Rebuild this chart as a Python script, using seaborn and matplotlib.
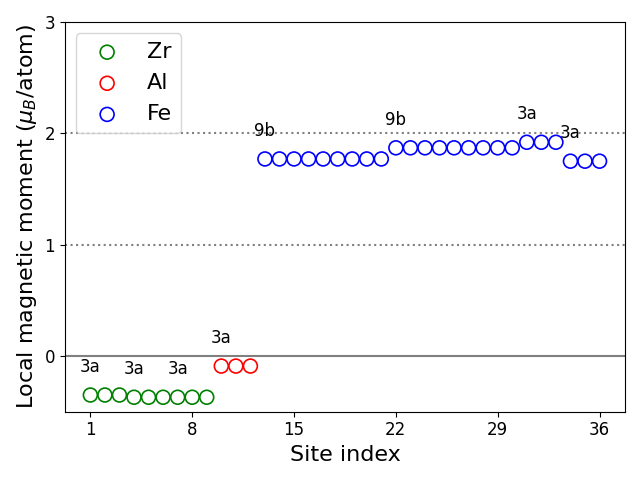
import matplotlib
matplotlib.use("Agg")
import matplotlib.pyplot as plt
import seaborn as sns
import numpy as np

zr_sites = [1, 2, 3, 4, 5, 6, 7, 8, 9]
zr_moments = [-0.35, -0.35, -0.35, -0.37, -0.37, -0.37, -0.37, -0.37, -0.37]
al_sites = [10, 11, 12]
al_moments = [-0.09, -0.09, -0.09]
fe_sites = list(range(13, 37))
fe_moments = [1.77] * 9 + [1.87] * 9 + [1.92] * 3 + [1.75] * 3

label_sites = [1, 4, 7, 10, 13, 22, 31, 34]
label_texts = ["3a", "3a", "3a", "3a", "9b", "9b", "3a", "3a"]

fig, ax = plt.subplots(figsize=(6.4, 4.8), dpi=100)

ax.axhline(0, color="gray", lw=1.5, zorder=0)
ax.axhline(1, color="gray", lw=1.5, ls=":", zorder=0)
ax.axhline(2, color="gray", lw=1.5, ls=":", zorder=0)

for sites, vals, col, name in [(zr_sites, zr_moments, "green", "Zr"),
                               (al_sites, al_moments, "red", "Al"),
                               (fe_sites, fe_moments, "blue", "Fe")]:
    sns.scatterplot(x=sites, y=vals, ax=ax, s=100, marker="o",
                    facecolors="none", edgecolor=col, linewidth=1.2,
                    label=name)

all_sites = zr_sites + al_sites + fe_sites
all_vals = zr_moments + al_moments + fe_moments
lookup = dict(zip(all_sites, all_vals))
for s, t in zip(label_sites, label_texts):
    ax.text(s, lookup[s] + 0.25, t, ha="center", va="center", fontsize=12)

ax.set_xlim(-0.75, 37.75)
ax.set_ylim(-0.5, 3)
ax.set_xticks([1, 8, 15, 22, 29, 36])
ax.set_yticks([0, 1, 2, 3])
ax.tick_params(labelsize=12)
ax.set_xlabel("Site index", fontsize=16)
ax.set_ylabel(r"Local magnetic moment ($\mu_B$/atom)", fontsize=16)
ax.legend(loc="upper left", fontsize=16)

fig.tight_layout()
fig.savefig("out.png", dpi=100)
